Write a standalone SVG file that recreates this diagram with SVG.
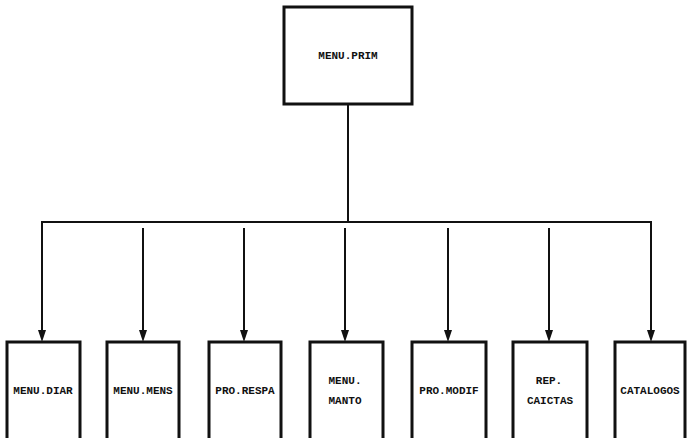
<svg xmlns="http://www.w3.org/2000/svg" width="687" height="438" viewBox="0 0 687 438">
<style>
.box{fill:#fff;stroke:#111;stroke-width:3}
.lbl{font-family:"Liberation Mono","DejaVu Sans Mono",monospace;font-weight:bold;font-size:11px;fill:#111;text-anchor:middle}
.wire{fill:none;stroke:#111;stroke-width:2}
.head{fill:#111}
</style>
<rect width="687" height="438" fill="#fff"/>
<g id="connectors">
<path class="wire" d="M348,104 V222"/>
<path class="wire" d="M42,332 V222 H651 V332"/>
<path class="head" d="M38,330 L46,330 L42,342 Z"/>
<path class="head" d="M647,330 L655,330 L651,342 Z"/>
<path class="wire" d="M143,228 V332"/>
<path class="head" d="M139,330 L147,330 L143,342 Z"/>
<path class="wire" d="M244,228 V332"/>
<path class="head" d="M240,330 L248,330 L244,342 Z"/>
<path class="wire" d="M345,228 V332"/>
<path class="head" d="M341,330 L349,330 L345,342 Z"/>
<path class="wire" d="M448,228 V332"/>
<path class="head" d="M444,330 L452,330 L448,342 Z"/>
<path class="wire" d="M549,228 V332"/>
<path class="head" d="M545,330 L553,330 L549,342 Z"/>
</g>
<g id="menu-prim">
<rect class="box" x="284" y="7" width="128" height="97"/>
<text class="lbl" x="348" y="59" font-size="11.5">MENU.PRIM</text>
</g>
<g id="menu-diar">
<rect class="box" x="7" y="342" width="73" height="100"/>
<text class="lbl" x="43" y="394">MENU.DIAR</text>
</g>
<g id="menu-mens">
<rect class="box" x="107" y="342" width="72" height="100"/>
<text class="lbl" x="143" y="394">MENU.MENS</text>
</g>
<g id="pro-respa">
<rect class="box" x="209" y="342" width="72" height="100"/>
<text class="lbl" x="245" y="394">PRO.RESPA</text>
</g>
<g id="menu-manto">
<rect class="box" x="310" y="342" width="73" height="100"/>
<text class="lbl" x="345" y="384">MENU.</text>
<text class="lbl" x="345" y="404">MANTO</text>
</g>
<g id="pro-modif">
<rect class="box" x="412" y="342" width="74" height="100"/>
<text class="lbl" x="449" y="394">PRO.MODIF</text>
</g>
<g id="rep-caictas">
<rect class="box" x="513" y="342" width="74" height="100"/>
<text class="lbl" x="549" y="384">REP.</text>
<text class="lbl" x="550" y="404">CAICTAS</text>
</g>
<g id="catalogos">
<rect class="box" x="615" y="342" width="70" height="100"/>
<text class="lbl" x="650" y="394">CATALOGOS</text>
</g>
</svg>
